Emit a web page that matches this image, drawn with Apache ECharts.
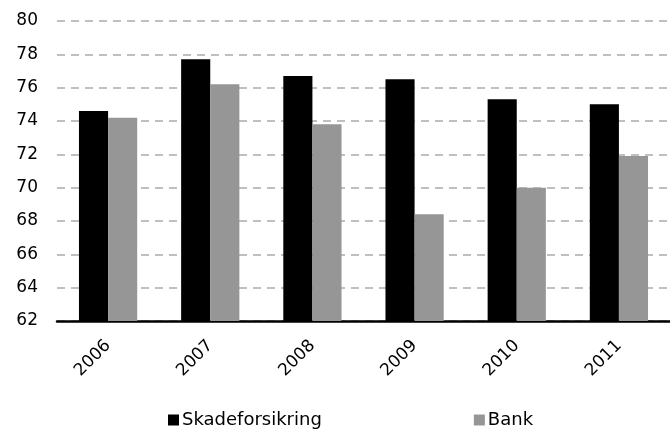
<!DOCTYPE html>
<html>
<head>
<meta charset="utf-8">
<script src="https://cdn.jsdelivr.net/npm/echarts@6/dist/echarts.min.js"></script>
<style>
html,body{margin:0;padding:0;background:#fff;}
#chart{width:670px;height:429px;}
</style>
</head>
<body>
<div id="chart"></div>
<script>
const categories = ['2006', '2007', '2008', '2009', '2010', '2011'];
const skadeforsikring = [74.6, 77.7, 76.7, 76.5, 75.3, 75.0];
const bank = [74.2, 76.2, 73.8, 68.4, 70.0, 71.9];
const seriesNames = ['Skadeforsikring', 'Bank'];

const font = '"DejaVu Sans", Verdana, sans-serif';
const chart = echarts.init(document.getElementById('chart'));
chart.setOption({
  animation: false,
  textStyle: { fontFamily: font },
  grid: { left: 57, right: -7, top: 21, bottom: 108, containLabel: false },
  legend: {
    data: seriesNames,
    left: 163,
    top: 406,
    itemWidth: 11,
    itemHeight: 11,
    itemGap: 152,
    icon: 'rect',
    textStyle: { fontFamily: font, fontSize: 18, color: '#000', padding: [0, 0, 0, -2] }
  },
  xAxis: {
    type: 'category',
    data: categories,
    axisLine: { lineStyle: { color: '#000', width: 2.5 } },
    axisTick: { show: false },
    axisLabel: { rotate: 45, fontSize: 17, color: '#000', fontFamily: font, margin: 22 },
    splitLine: { show: false }
  },
  yAxis: {
    type: 'value',
    min: 62,
    max: 80,
    interval: 2,
    axisLine: { show: false },
    axisTick: { show: false },
    axisLabel: { fontSize: 17, color: '#000', fontFamily: font, margin: 19 },
    splitLine: { lineStyle: { color: '#bfbfbf', type: [8, 6], width: 2 } }
  },
  series: [
    {
      name: seriesNames[0], type: 'bar', data: skadeforsikring,
      itemStyle: { color: '#000000' }, barWidth: '28.5%', barGap: '0%'
    },
    {
      name: seriesNames[1], type: 'bar', data: bank,
      itemStyle: { color: '#969696' }, barWidth: '28.5%', barGap: '0%'
    }
  ]
});
</script>
</body>
</html>
